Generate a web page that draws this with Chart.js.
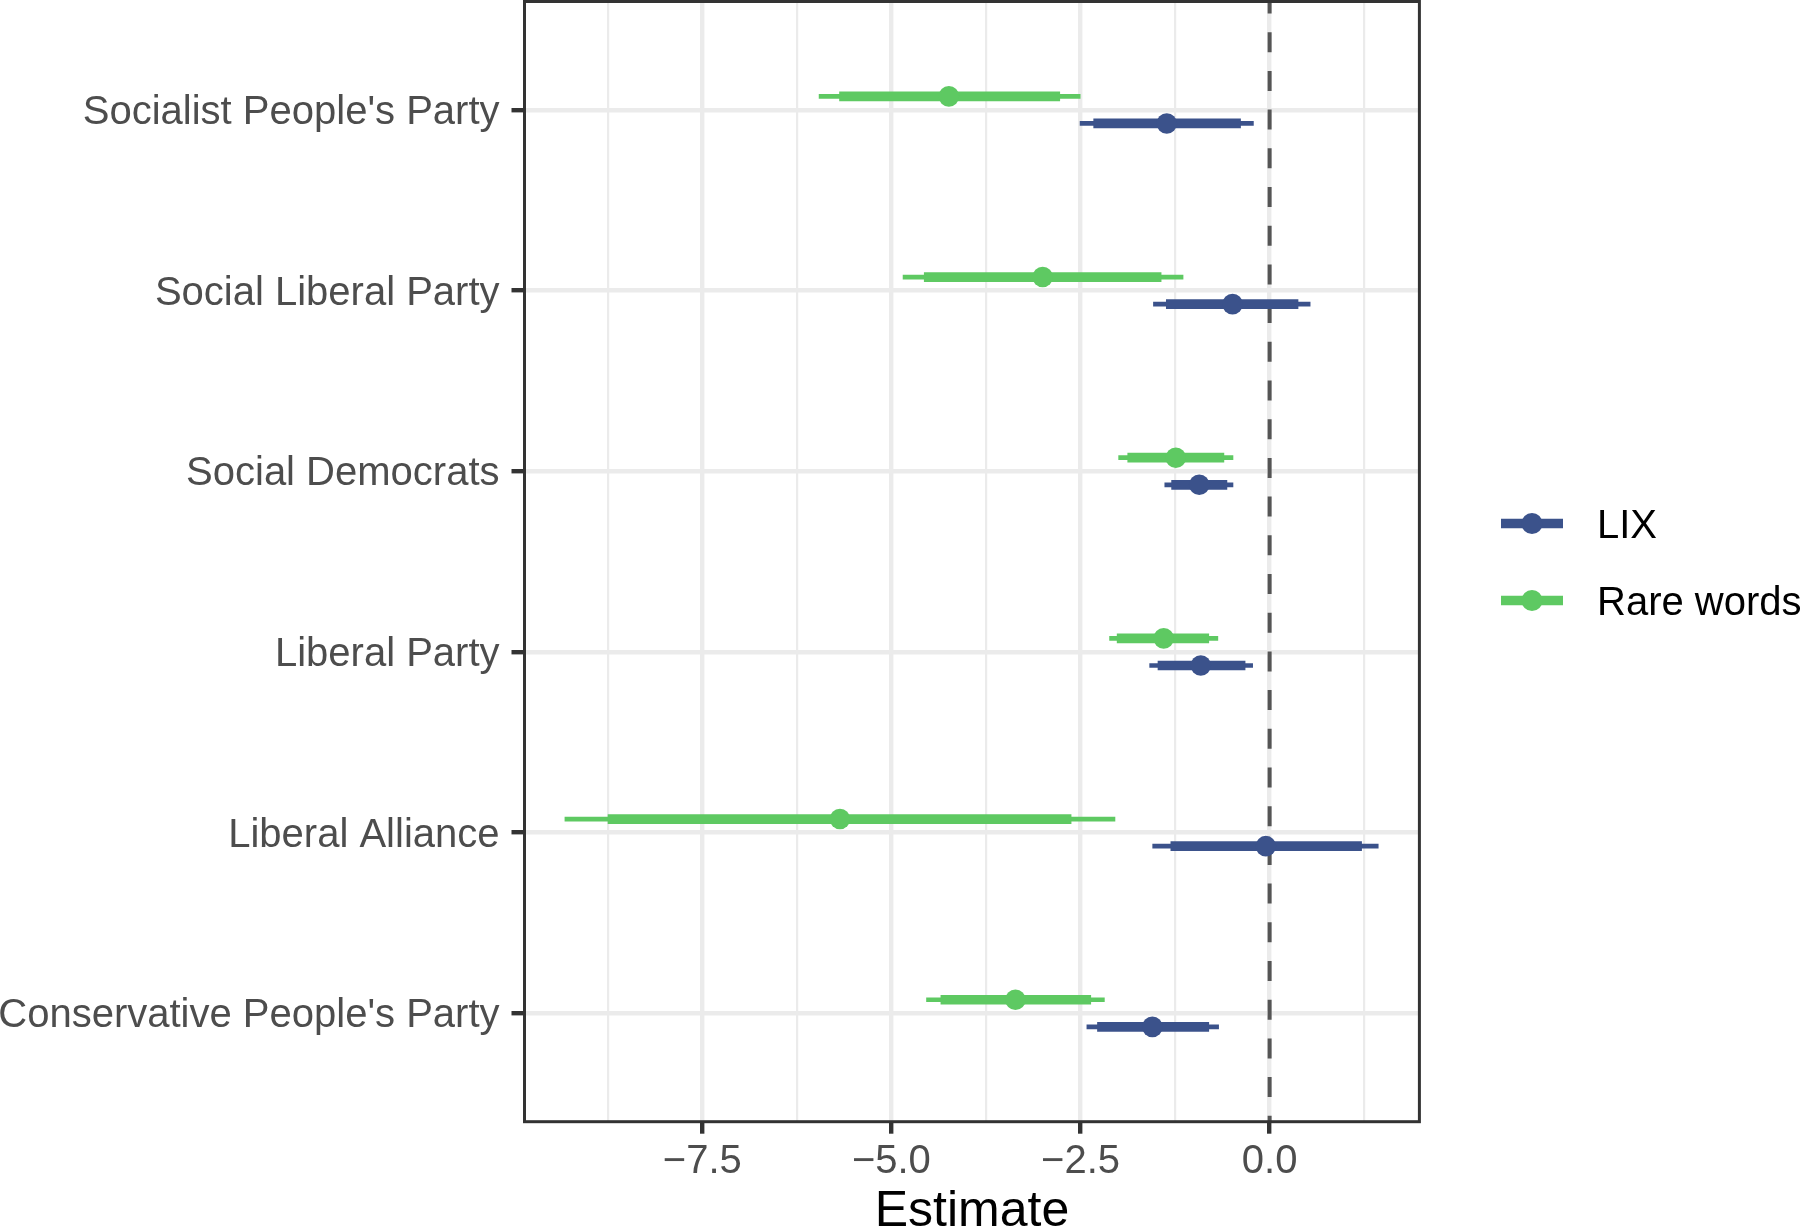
<!DOCTYPE html>
<html>
<head>
<meta charset="utf-8">
<script src="https://cdn.jsdelivr.net/npm/chart.js@4.4.1/dist/chart.umd.min.js"></script>
<style>
  html, body { margin: 0; padding: 0; background: #ffffff; }
  #wrap { width: 1800px; height: 1231px; }
</style>
</head>
<body>
<div id="wrap"><canvas id="forest" width="1800" height="1231"></canvas></div>
<script>
// Parties, top to bottom
const categories = [
    "Socialist People's Party",
    'Social Liberal Party',
    'Social Democrats',
    'Liberal Party',
    'Liberal Alliance',
    "Conservative People's Party"
];

// LIX: estimate, inner interval, outer interval
const lixEstimate = [-1.36, -0.49, -0.93, -0.91, -0.05, -1.55];
const lixInnerLow = [-2.33, -1.37, -1.30, -1.48, -1.31, -2.28];
const lixInnerHigh = [-0.38, 0.38, -0.56, -0.32, 1.22, -0.80];
const lixOuterLow = [-2.51, -1.54, -1.39, -1.59, -1.55, -2.42];
const lixOuterHigh = [-0.21, 0.54, -0.48, -0.22, 1.44, -0.67];

// Rare words
const rareEstimate = [-4.24, -3.00, -1.24, -1.40, -5.68, -3.36];
const rareInnerLow = [-5.69, -4.57, -1.88, -2.02, -8.75, -4.35];
const rareInnerHigh = [-2.77, -1.43, -0.60, -0.80, -2.62, -2.36];
const rareOuterLow = [-5.96, -4.85, -2.00, -2.12, -9.32, -4.54];
const rareOuterHigh = [-2.50, -1.14, -0.48, -0.68, -2.04, -2.18];

// x axis ticks (grid at every 1.25, labels only at majors)
const xGridValues = [-8.75, -7.5, -6.25, -5, -3.75, -2.5, -1.25, 0, 1.25];
const xTickLabels = [-7.5, -5, -2.5, 0];

const BLUE = '#3B528B';
const GREEN = '#5EC962';
const FONT = "'Liberation Sans', Arial, Helvetica, sans-serif";
const DODGE = 0.075;

function intervalSets(color, lows, highs, width, dodge, order) {
    return lows.map((lo, i) => ({
        type: 'scatter',
        showLine: true,
        data: [{ x: lo, y: i + 1 + dodge }, { x: highs[i], y: i + 1 + dodge }],
        borderColor: color,
        borderWidth: width,
        borderCapStyle: 'butt',
        pointRadius: 0,
        pointHoverRadius: 0,
        order: order
    }));
}

function pointSet(label, color, values, dodge) {
    return {
        type: 'scatter',
        label: label,
        data: values.map((v, i) => ({ x: v, y: i + 1 + dodge })),
        backgroundColor: color,
        borderWidth: 0,
        pointRadius: 10.3,
        pointHoverRadius: 10.3,
        order: 1
    };
}

const datasets = [
    {
        type: 'scatter',
        showLine: true,
        data: [{ x: 0, y: 0.4 }, { x: 0, y: 6.6 }],
        borderColor: '#555555',
        borderWidth: 4,
        borderDash: [20, 18.7],
        borderDashOffset: 8,
        pointRadius: 0,
        clip: 0,
        order: 20
    },
    ...intervalSets(BLUE, lixOuterLow, lixOuterHigh, 4.7, DODGE, 6),
    ...intervalSets(GREEN, rareOuterLow, rareOuterHigh, 4.7, -DODGE, 6),
    ...intervalSets(BLUE, lixInnerLow, lixInnerHigh, 9.7, DODGE, 4),
    ...intervalSets(GREEN, rareInnerLow, rareInnerHigh, 9.7, -DODGE, 4),
    pointSet('LIX', BLUE, lixEstimate, DODGE),
    pointSet('Rare words', GREEN, rareEstimate, -DODGE)
];

function noPadding(scale) {
    scale.paddingTop = 0;
    scale.paddingBottom = 0;
    scale.paddingLeft = 0;
    scale.paddingRight = 0;
}

// Panel border drawn over the data, like the ggplot panel
const panelBorder = {
    id: 'panelBorder',
    afterDatasetsDraw(chart) {
        const a = chart.chartArea;
        const ctx = chart.ctx;
        ctx.save();
        ctx.strokeStyle = '#333333';
        ctx.lineWidth = 3;
        ctx.strokeRect(a.left, a.top, a.right - a.left, a.bottom - a.top);
        ctx.restore();
    }
};

// Legend on the right: line + dot keys
const legendKeys = {
    id: 'legendKeys',
    afterDraw(chart) {
        const ctx = chart.ctx;
        const items = [
            { label: 'LIX', color: BLUE, y: 523.5 },
            { label: 'Rare words', color: GREEN, y: 600.5 }
        ];
        ctx.save();
        items.forEach(it => {
            ctx.strokeStyle = it.color;
            ctx.lineWidth = 9.7;
            ctx.lineCap = 'butt';
            ctx.beginPath();
            ctx.moveTo(1501, it.y);
            ctx.lineTo(1563, it.y);
            ctx.stroke();
            ctx.fillStyle = it.color;
            ctx.beginPath();
            ctx.arc(1532, it.y, 10.5, 0, Math.PI * 2);
            ctx.fill();
            ctx.fillStyle = '#000000';
            ctx.font = '40px ' + FONT;
            ctx.textAlign = 'left';
            ctx.textBaseline = 'middle';
            ctx.fillText(it.label, 1597, it.y + 3);
        });
        ctx.restore();
    }
};

new Chart(document.getElementById('forest'), {
    type: 'scatter',
    data: { datasets: datasets },
    plugins: [panelBorder, legendKeys],
    options: {
        responsive: false,
        animation: false,
        devicePixelRatio: 1,
        events: [],
        layout: { autoPadding: false, padding: { top: 1.5, right: 380.6, bottom: 0, left: 0 } },
        plugins: {
            legend: { display: false },
            tooltip: { enabled: false }
        },
        scales: {
            x: {
                type: 'linear',
                min: -9.85,
                max: 1.98,
                afterBuildTicks: scale => {
                    scale.ticks = xGridValues.map(v => ({ value: v }));
                },
                afterFit: scale => {
                    scale.height = 1231 - 1121.7;
                    noPadding(scale);
                },
                border: { display: false },
                grid: {
                    color: '#EBEBEB',
                    lineWidth: ctx => xTickLabels.includes(ctx.tick.value) ? 4.4 : 2.2,
                    drawTicks: true,
                    tickLength: 12,
                    tickWidth: 4.4,
                    tickColor: ctx => xTickLabels.includes(ctx.tick.value) ? '#333333' : 'rgba(0,0,0,0)'
                },
                ticks: {
                    padding: 4,
                    maxRotation: 0,
                    autoSkip: false,
                    color: '#4D4D4D',
                    font: { family: FONT, size: 40 },
                    callback: v => xTickLabels.includes(v) ? v.toFixed(1).replace('-', '\u2212') : ''
                },
                title: {
                    display: true,
                    text: 'Estimate',
                    color: '#000000',
                    font: { family: FONT, size: 50, lineHeight: 0.6 },
                    padding: { top: 0, bottom: 3.5 }
                }
            },
            y: {
                type: 'linear',
                reverse: true,
                min: 0.4,
                max: 6.6,
                afterBuildTicks: scale => {
                    scale.ticks = categories.map((c, i) => ({ value: i + 1 }));
                },
                afterFit: scale => {
                    scale.width = 524.5;
                    noPadding(scale);
                },
                border: { display: false },
                grid: {
                    color: '#EBEBEB',
                    lineWidth: 4.4,
                    drawTicks: true,
                    tickLength: 13,
                    tickWidth: 4.4,
                    tickColor: '#333333'
                },
                ticks: {
                    padding: 12,
                    labelOffset: 3,
                    autoSkip: false,
                    color: '#4D4D4D',
                    font: { family: FONT, size: 40 },
                    callback: v => categories[Math.round(v) - 1] || ''
                }
            }
        }
    }
});
</script>
</body>
</html>
